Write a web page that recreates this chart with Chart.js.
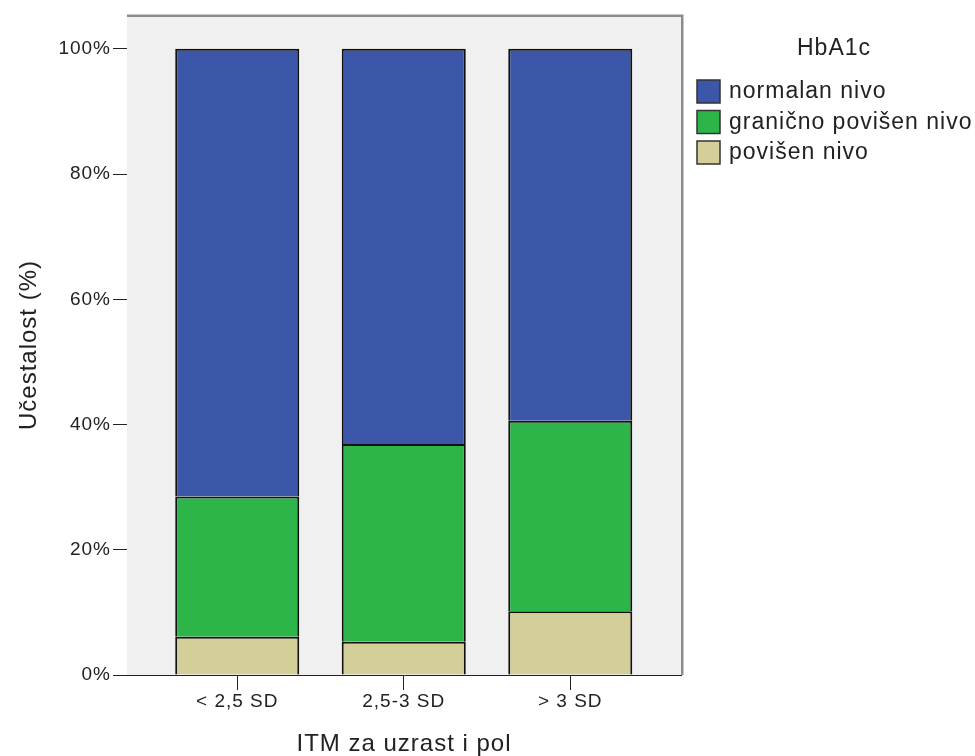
<!DOCTYPE html>
<html>
<head>
<meta charset="utf-8">
<script src="https://cdn.jsdelivr.net/npm/chart.js@4"></script>
<style>
  body { margin: 0; background: #fff; }
</style>
</head>
<body>
<canvas id="chart" width="975" height="756"></canvas>
<script>
const categories = ['< 2,5 SD', '2,5-3 SD', '> 3 SD'];
const seriesNames = ['normalan nivo', 'granično povišen nivo', 'povišen nivo'];
const normalan = [71.5, 63.1, 59.4];
const granicno = [22.4, 31.6, 30.4];
const povisen = [6.1, 5.3, 10.2];
const yTicks = [0, 20, 40, 60, 80, 100];

const colors = ['#3c57a9', '#2eb54a', '#d4cf98'];
const FONT = "'Liberation Sans', Arial, sans-serif";

const toPoints = arr => arr.map((v, i) => ({ x: i, y: v }));

// letter spacing helps match the wide SPSS text
const spacing = {
  id: 'spacing',
  beforeLayout(chart) { chart.ctx.letterSpacing = '1px'; },
  beforeDraw(chart) { chart.ctx.letterSpacing = '1px'; }
};

const frame = {
  id: 'frame',
  beforeDatasetsDraw(chart) {
    const { ctx, chartArea: a } = chart;
    ctx.save();
    ctx.fillStyle = '#f0f0f0';
    ctx.fillRect(a.left, a.top, a.right - a.left, a.bottom - a.top);
    ctx.restore();
  },
  afterDraw(chart) {
    const { ctx, chartArea: a } = chart;
    ctx.save();
    ctx.strokeStyle = '#8c8c8c';
    ctx.lineWidth = 2;
    ctx.beginPath();
    ctx.moveTo(a.left, a.top + 1);
    ctx.lineTo(a.right + 1, a.top + 1);
    ctx.lineTo(a.right + 1, a.bottom);
    ctx.stroke();
    ctx.strokeStyle = '#c8c8c8';
    ctx.lineWidth = 1;
    ctx.beginPath();
    ctx.moveTo(a.left, a.top - 0.5);
    ctx.lineTo(a.right + 2.5, a.top - 0.5);
    ctx.lineTo(a.right + 2.5, a.bottom);
    ctx.stroke();

    // legend
    ctx.fillStyle = '#222';
    ctx.font = '23px ' + FONT;
    ctx.textBaseline = 'middle';
    ctx.textAlign = 'center';
    ctx.fillText('HbA1c', 834, 49);
    ctx.textAlign = 'left';
    seriesNames.forEach((name, i) => {
      const y = 80 + i * 30.5;
      ctx.fillStyle = colors[i];
      ctx.fillRect(697, y, 23, 23);
      ctx.strokeStyle = '#333';
      ctx.lineWidth = 1.5;
      ctx.strokeRect(697, y, 23, 23);
      ctx.fillStyle = '#222';
      ctx.fillText(name, 729, y + 12);
    });
    ctx.restore();
  }
};

new Chart(document.getElementById('chart'), {
  type: 'bar',
  data: {
    datasets: [
      { label: seriesNames[2], data: toPoints(povisen), backgroundColor: colors[2] },
      { label: seriesNames[1], data: toPoints(granicno), backgroundColor: colors[1] },
      { label: seriesNames[0], data: toPoints(normalan), backgroundColor: colors[0] }
    ].map(d => ({ ...d, borderColor: '#111', borderWidth: 2, barPercentage: 0.745, categoryPercentage: 1 }))
  },
  options: {
    responsive: false,
    animation: false,
    layout: { padding: { left: 0, right: 294, top: 15, bottom: 0 } },
    plugins: { legend: { display: false }, tooltip: { enabled: false } },
    scales: {
      x: {
        type: 'linear',
        stacked: true,
        offset: false,
        min: -0.662,
        max: 2.665,
        afterBuildTicks: s => { s.ticks = categories.map((c, i) => ({ value: i })); },
        afterFit: s => { s.height = 81; },
        ticks: {
          callback: v => categories[v],
          color: '#222',
          font: { family: FONT, size: 19 },
          padding: 0,
          maxRotation: 0
        },
        grid: { offset: false, drawOnChartArea: false, color: '#222', tickLength: 15 },
        border: { display: true, color: '#222', width: 1 },
        title: {
          display: true,
          text: 'ITM za uzrast i pol',
          color: '#222',
          font: { family: FONT, size: 24, lineHeight: 1 },
          padding: { top: 0, bottom: 0 }
        }
      },
      y: {
        stacked: true,
        min: 0,
        max: 105.4,
        afterBuildTicks: s => { s.ticks = yTicks.map(v => ({ value: v })); },
        afterFit: s => { s.width = 127; },
        ticks: {
          callback: v => v + '%',
          color: '#222',
          font: { family: FONT, size: 19 },
          padding: 2
        },
        grid: { drawOnChartArea: false, color: '#222', tickLength: 14 },
        border: { display: true, color: '#222', width: 1 },
        title: {
          display: true,
          text: 'Učestalost (%)',
          color: '#222',
          font: { family: FONT, size: 24 },
          padding: { top: 15, bottom: 0 }
        }
      }
    }
  },
  plugins: [spacing, frame]
});
</script>
</body>
</html>
